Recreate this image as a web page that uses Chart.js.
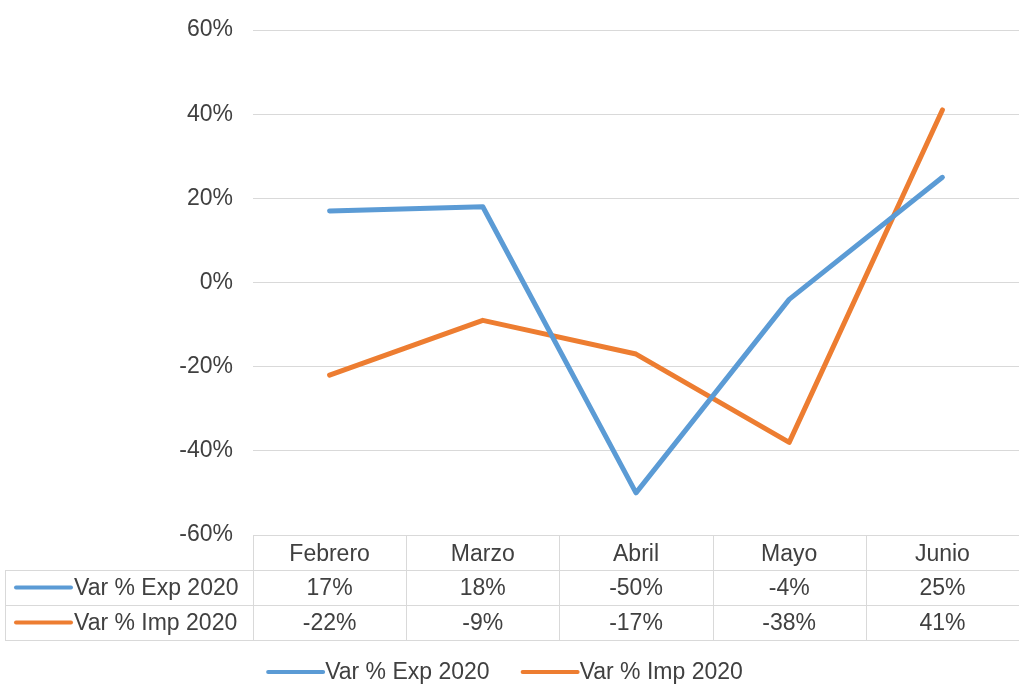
<!DOCTYPE html>
<html>
<head>
<meta charset="utf-8">
<script src="https://cdn.jsdelivr.net/npm/chart.js@4.4.0/dist/chart.umd.min.js"></script>
<style>
    body { margin: 0; background: #ffffff; }
    #caja { width: 1019px; height: 684px; }
</style>
</head>
<body>
<div id="caja"><canvas id="chartVariacion"></canvas></div>
<script>
// datos
const meses = ['Febrero', 'Marzo', 'Abril', 'Mayo', 'Junio'];
const varExp2020 = [17, 18, -50, -4, 25];
const varImp2020 = [-22, -9, -17, -38, 41];
const ticksY = [-60, -40, -20, 0, 20, 40, 60];
const nombres = ['Var % Exp 2020', 'Var % Imp 2020'];
const colores = ['#5B9BD5', '#ED7D31'];

const fuente = "'Liberation Sans', Arial, sans-serif";
const colorTexto = '#404040';
const colorBorde = '#d9d9d9';

// tabla de datos debajo del grafico + leyenda de abajo
const tablaDatos = {
    id: 'tablaDatos',
    afterDraw(chart) {
        const ctx = chart.ctx;
        const area = chart.chartArea;
        const x = chart.scales.x;
        const paso = x.getPixelForValue(1) - x.getPixelForValue(0);
        const fila = 35;
        const arriba = area.bottom;
        const series = [varExp2020, varImp2020];

        ctx.save();
        ctx.strokeStyle = colorBorde;
        ctx.lineWidth = 1;
        ctx.beginPath();
        // lineas horizontales
        for (let i = 1; i <= 3; i++) {
            const y = Math.round(arriba + fila * i) + 0.5;
            ctx.moveTo(5, y);
            ctx.lineTo(area.right, y);
        }
        // lineas verticales
        ctx.moveTo(5.5, arriba + fila);
        ctx.lineTo(5.5, arriba + fila * 3);
        for (let i = 0; i < meses.length; i++) {
            const xs = Math.round(x.getPixelForValue(i) - paso / 2) + 0.5;
            ctx.moveTo(xs, arriba);
            ctx.lineTo(xs, arriba + fila * 3);
        }
        ctx.stroke();

        ctx.font = '23px ' + fuente;
        ctx.fillStyle = colorTexto;
        ctx.textBaseline = 'middle';

        for (let s = 0; s < series.length; s++) {
            const yc = arriba + fila * (s + 1.5);
            ctx.strokeStyle = colores[s];
            ctx.lineWidth = 4;
            ctx.lineCap = 'round';
            ctx.beginPath();
            ctx.moveTo(16, yc);
            ctx.lineTo(71, yc);
            ctx.stroke();
            ctx.textAlign = 'left';
            ctx.fillText(nombres[s], 74, yc + 1);
            ctx.textAlign = 'center';
            for (let i = 0; i < meses.length; i++) {
                ctx.fillText(series[s][i] + '%', x.getPixelForValue(i), yc + 1);
            }
        }

        // leyenda
        const largo = 55;
        const separa = 33;
        ctx.textAlign = 'left';
        const anchos = nombres.map(n => ctx.measureText(n).width);
        let total = 0;
        for (let s = 0; s < nombres.length; s++) {
            total += largo + 2 + anchos[s];
        }
        total += separa;
        let xl = chart.width / 2 - total / 2 - 4;
        const yl = 672;
        for (let s = 0; s < nombres.length; s++) {
            ctx.strokeStyle = colores[s];
            ctx.lineWidth = 4;
            ctx.beginPath();
            ctx.moveTo(xl, yl);
            ctx.lineTo(xl + largo, yl);
            ctx.stroke();
            ctx.fillText(nombres[s], xl + largo + 2, yl + 1);
            xl += largo + 2 + anchos[s] + separa;
        }
        ctx.restore();
    }
};

document.addEventListener('DOMContentLoaded', () => {
    const ctxVariacion = document.getElementById('chartVariacion');

    new Chart(ctxVariacion, {
        type: 'line',
        data: {
            labels: meses,
            datasets: [
                {
                    label: nombres[0],
                    data: varExp2020,
                    borderColor: colores[0],
                    backgroundColor: colores[0],
                    borderWidth: 5,
                    borderCapStyle: 'round',
                    borderJoinStyle: 'round',
                    pointRadius: 0,
                    tension: 0
                },
                {
                    label: nombres[1],
                    data: varImp2020,
                    borderColor: colores[1],
                    backgroundColor: colores[1],
                    borderWidth: 5,
                    borderCapStyle: 'round',
                    borderJoinStyle: 'round',
                    pointRadius: 0,
                    tension: 0
                }
            ]
        },
        options: {
            responsive: true,
            maintainAspectRatio: false,
            animation: false,
            layout: {
                padding: { top: 30, left: 0, right: 0, bottom: 0 }
            },
            plugins: {
                legend: { display: false },
                tooltip: { enabled: false }
            },
            scales: {
                x: {
                    offset: true,
                    grid: { display: false, drawTicks: false },
                    border: { display: false },
                    ticks: {
                        color: colorTexto,
                        font: { family: fuente, size: 23 },
                        padding: 6,
                        maxRotation: 0
                    },
                    afterFit: (escala) => { escala.height = 149; }
                },
                y: {
                    min: ticksY[0],
                    max: ticksY[ticksY.length - 1],
                    grid: { color: colorBorde, drawTicks: false },
                    border: { display: false },
                    afterBuildTicks: (escala) => {
                        escala.ticks = ticksY.map(v => ({ value: v }));
                    },
                    ticks: {
                        color: colorTexto,
                        font: { family: fuente, size: 23 },
                        padding: 20,
                        callback: (v) => v + '%'
                    },
                    afterFit: (escala) => {
                        escala.width = 253;
                        escala.paddingTop = 0;
                        escala.paddingBottom = 0;
                    }
                }
            }
        },
        plugins: [tablaDatos]
    });
});
</script>
</body>
</html>
